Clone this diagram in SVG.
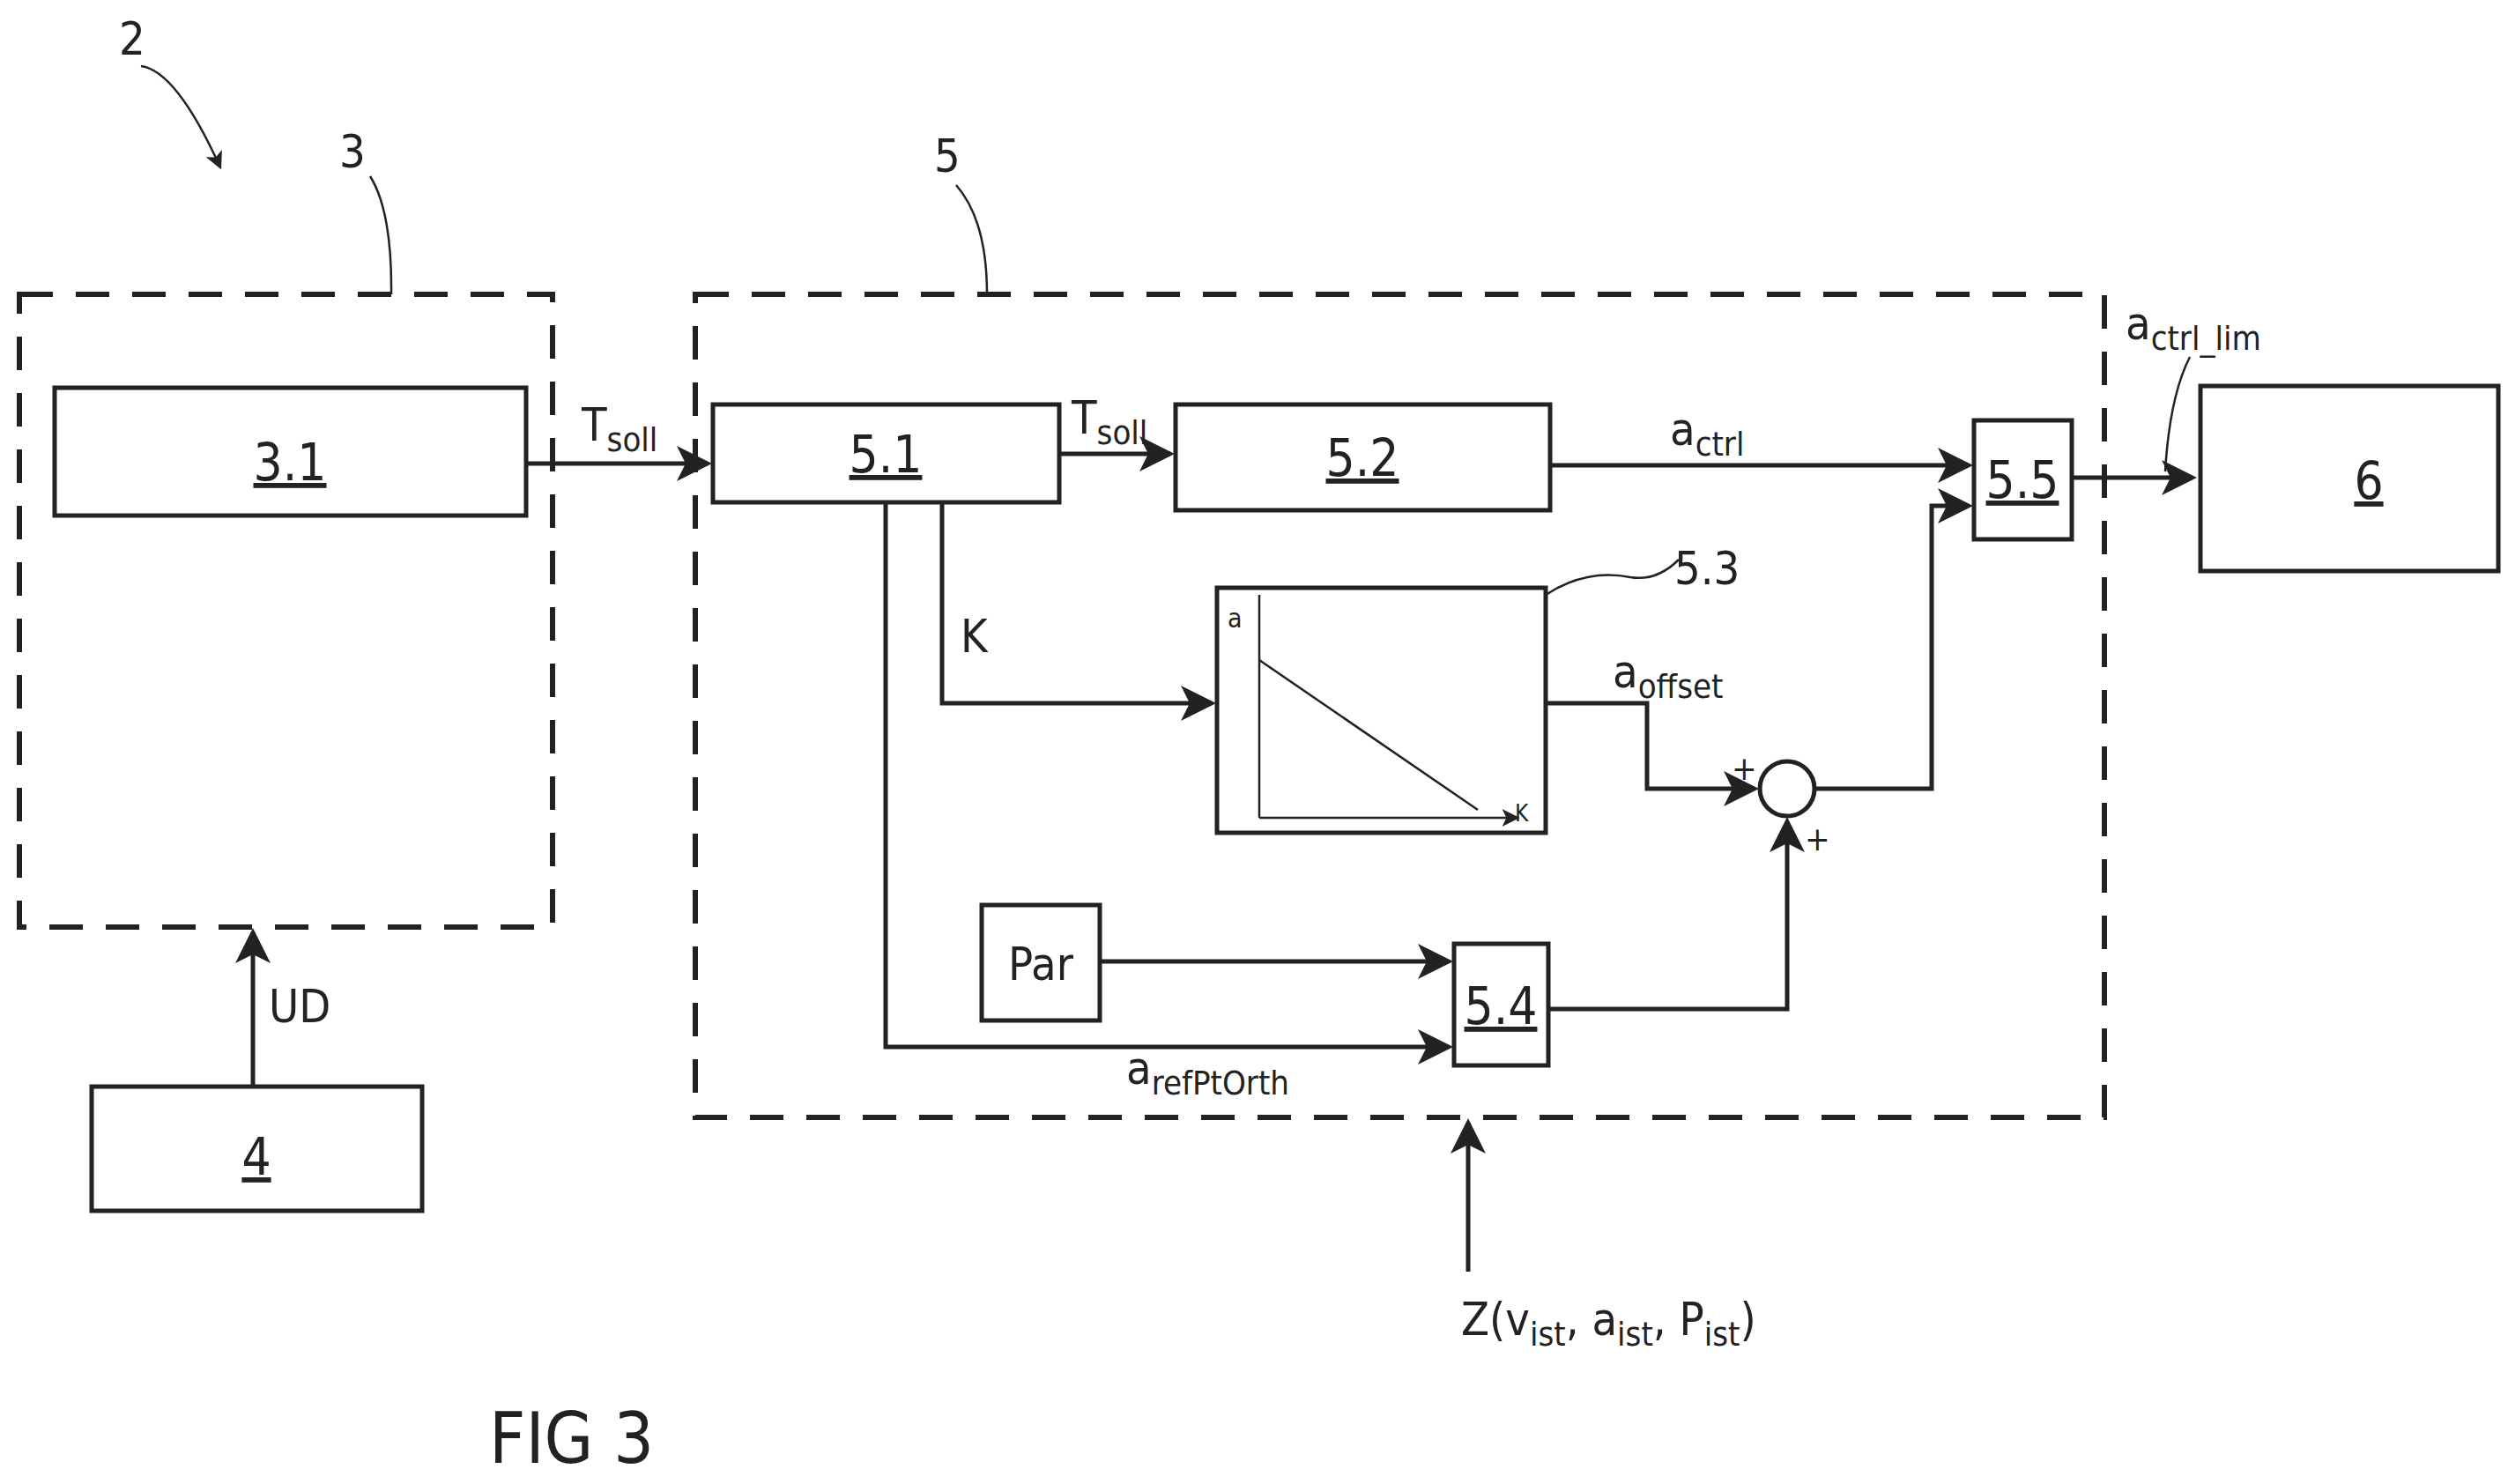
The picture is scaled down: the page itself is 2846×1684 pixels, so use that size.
<svg xmlns="http://www.w3.org/2000/svg" width="2846" height="1684" viewBox="0 0 2846 1684">
<style>
.b{fill:none;stroke:#222;stroke-width:5}
.d{fill:none;stroke:#222;stroke-width:6;stroke-dasharray:38 26}
.l{fill:none;stroke:#222;stroke-width:5}
.t{stroke:#222;stroke-width:2.5;fill:none}
text{font-family:"DejaVu Sans","Liberation Sans",sans-serif;font-stretch:condensed;fill:#222}
.n{font-size:58px;text-anchor:middle;text-decoration:underline}
.s{font-size:52px}
.u{font-size:38px}
</style>
<defs>
<marker id="a" markerWidth="8" markerHeight="8" refX="7" refY="4" orient="auto" markerUnits="strokeWidth"><path d="M0,0 L8,4 L0,8 L2,4 Z" fill="#222"/></marker>
</defs>
<g id="n2"><text x="135" y="62" class="s">2</text><path class="t" d="M160,75 Q200,80 250,190" marker-end="url(#a)"/></g>
<g id="n3"><rect class="d" x="22" y="334" width="605" height="718"/><text x="385" y="190" class="s">3</text><path class="t" d="M420,200 Q445,240 444,334"/></g>
<g id="n31"><rect class="b" x="62" y="440" width="535" height="145"/><text x="329" y="545" class="n">3.1</text></g>
<g id="n4"><rect class="b" x="104" y="1233" width="375" height="141"/><text x="291" y="1333" class="n">4</text></g>
<g id="n5"><rect class="d" x="789" y="334" width="1599" height="934"/><text x="1060" y="195" class="s">5</text><path class="t" d="M1085,210 Q1120,250 1120,334"/></g>
<g id="n51"><rect class="b" x="809" y="459" width="393" height="111"/><text x="1005" y="536" class="n">5.1</text></g>
<g id="n52"><rect class="b" x="1334" y="459" width="425" height="120"/><text x="1546" y="540" class="n">5.2</text></g>
<g id="n53"><rect class="b" x="1381" y="667" width="373" height="278"/>
<path class="t" d="M1429,928 V675 M1429,928 H1722" marker-end="url(#a)"/>
<path class="t" d="M1429,749 L1677,919"/>
<text x="1393" y="712" font-size="30px">a</text><text x="1719" y="932" font-size="26px">K</text>
<path class="t" d="M1754,675 Q1800,645 1850,655 Q1880,660 1905,635"/><text x="1900" y="663" class="s">5.3</text></g>
<g id="n55"><rect class="b" x="2240" y="477" width="111" height="135"/><text x="2295" y="565" class="n">5.5</text></g>
<g id="n6"><rect class="b" x="2497" y="438" width="338" height="210"/><text x="2688" y="566" class="n">6</text></g>
<g id="npar"><rect class="b" x="1114" y="1027" width="134" height="131"/><text x="1181" y="1112" class="s" text-anchor="middle">Par</text></g>
<g id="n54"><rect class="b" x="1650" y="1071" width="107" height="138"/><text x="1703" y="1162" class="n">5.4</text></g>
<g id="sum"><circle class="b" cx="2028" cy="895" r="31"/><text x="1965" y="885" class="u">+</text><text x="2048" y="965" class="u">+</text></g>
<g id="connectors">
<path class="l" d="M287,1233 V1058" marker-end="url(#a)"/>
<path class="l" d="M597,526 H803" marker-end="url(#a)"/>
<path class="l" d="M1202,515 H1328" marker-end="url(#a)"/>
<path class="l" d="M1759,528 H2234" marker-end="url(#a)"/>
<path class="l" d="M2351,542 H2488" marker-end="url(#a)"/>
<path class="t" d="M2485,405 Q2462,450 2457,535"/>
<path class="l" d="M1069,570 V798 H1375" marker-end="url(#a)"/>
<path class="l" d="M1005,570 V1188 H1644" marker-end="url(#a)"/>
<path class="l" d="M1248,1091 H1644" marker-end="url(#a)"/>
<path class="l" d="M1754,798 H1869 V895 H1991" marker-end="url(#a)"/>
<path class="l" d="M1757,1145 H2028 V932" marker-end="url(#a)"/>
<path class="l" d="M2059,895 H2192 V574 H2234" marker-end="url(#a)"/>
<path class="l" d="M1666,1443 V1274" marker-end="url(#a)"/>
</g>
<g id="labels">
<text x="660" y="500" class="s">T<tspan class="u" dy="12">soll</tspan></text>
<text x="1216" y="492" class="s">T<tspan class="u" dy="12">soll</tspan></text>
<text x="1895" y="505" class="s">a<tspan class="u" dy="12">ctrl</tspan></text>
<text x="2412" y="385" class="s">a<tspan class="u" dy="12">ctrl_lim</tspan></text>
<text x="1830" y="780" class="s">a<tspan class="u" dy="12">offset</tspan></text>
<text x="1090" y="740" class="s">K</text>
<text x="305" y="1160" class="s">UD</text>
<text x="1278" y="1230" class="s">a<tspan class="u" dy="12">refPtOrth</tspan></text>
<text x="1658" y="1515" class="s">Z(v<tspan class="u" dy="12">ist</tspan><tspan dy="-12">, a</tspan><tspan class="u" dy="12">ist</tspan><tspan dy="-12">, P</tspan><tspan class="u" dy="12">ist</tspan><tspan dy="-12">)</tspan></text>
<text x="555" y="1660" font-size="80px">FIG 3</text>
</g>
</svg>
